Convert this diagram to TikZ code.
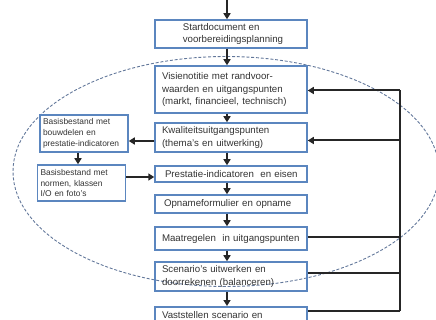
\documentclass[tikz,border=0pt]{standalone}
\usepackage{fontspec}
\setmainfont{Liberation Sans}
\usetikzlibrary{arrows.meta}
\definecolor{boxblue}{HTML}{5B86BF}
\definecolor{ellblue}{HTML}{62779A}
\definecolor{txt}{HTML}{333333}
\begin{document}
\begin{tikzpicture}[x=1pt,y=-1pt,
  mainbox/.style={draw=boxblue, line width=1.5pt, minimum width=152pt, text width=138pt,
    inner xsep=7pt, inner ysep=0pt, align=left, text=txt,
    font=\fontsize{9.7}{12.8}\selectfont},
  sidebox/.style={draw=boxblue, line width=1.5pt, text width=82pt,
    inner xsep=3pt, inner ysep=0pt, align=left, text=txt,
    font=\fontsize{8.4}{10.7}\selectfont},
  arr/.style={line width=2pt, draw=black!85, -{Triangle[length=6pt,width=7pt]}},
  fb/.style={line width=2pt, draw=black!85},
  ell/.style={draw=ellblue, line width=0.9pt, dash pattern=on 3pt off 1.8pt}]
\useasboundingbox (0,0) rectangle (436,320);
\clip (0,0) rectangle (436,320);

% dashed ellipse
\draw[ell] (226,171.5) ellipse [x radius=213pt, y radius=115pt];

% main column
\node[mainbox, text width=, align=left, minimum height=28pt] (b1) at (231,34)
  {\hspace{4pt}Startdocument en\\\hspace{4pt}voorbereidingsplanning};
\node[mainbox, minimum height=47pt] (b2) at (231,89.5)
  {Visienotitie met randvoor-\\waarden en uitgangspunten\\(markt, financieel, technisch)};
\node[mainbox, minimum height=29pt] (b3) at (231,137.5)
  {Kwaliteitsuitgangspunten\\(thema's en uitwerking)};
\node[mainbox, minimum height=16pt] (b4) at (231,174)
  {\hspace{3pt}Prestatie-indicatoren\ \ en eisen};
\node[mainbox, minimum height=18pt] (b5) at (231,204)
  {\hspace{2pt}Opnameformulier en opname};
\node[mainbox, minimum height=23pt] (b6) at (231,238.5)
  {Maatregelen\ \ in uitgangspunten};
\node[mainbox, minimum height=29pt] (b7) at (231,276.5)
  {Scenario's uitwerken en\\doorrekenen (balanceren)};
\node[mainbox, minimum height=34pt, anchor=north] (b8) at (231,306)
  {Vaststellen scenario en\\\strut};

% side column
\node[sidebox, minimum height=37pt] (s1) at (84,133.5)
  {Basisbestand met\\bouwdelen en\\prestatie-indicatoren};
\node[sidebox, minimum height=36pt] (s2) at (81.5,183)
  {Basisbestand met\\normen, klassen\\I/O en foto's};

% main arrows
\coordinate (top) at (227,0);
\draw[arr] (top) -- (top |- b1.north);
\draw[arr] (b1.south -| top) -- (b2.north -| top);
\draw[arr] (b2.south -| top) -- (b3.north -| top);
\draw[arr] (b3.south -| top) -- (b4.north -| top);
\draw[arr] (b4.south -| top) -- (b5.north -| top);
\draw[arr] (b5.south -| top) -- (b6.north -| top);
\draw[arr] (b6.south -| top) -- (b7.north -| top);
\draw[arr] (b7.south -| top) -- (b8.north -| top);

% side arrows
\draw[arr] ([yshift=-3.5pt]b3.west) -- ([yshift=-3.5pt]b3.west -| s1.east);
\coordinate (sx) at (78,0);
\draw[arr] (s1.south -| sx) -- (s2.north -| sx);
\draw[arr] ([yshift=-3pt]s2.east |- b4.west) -- ([yshift=-3pt]b4.west);

% feedback loop on the right
\coordinate (r2) at (400,90.5);
\coordinate (r8) at (400,311);
\draw[fb] (r2) -- (r8);
\draw[arr] (r2) -- (b2.east |- r2);
\draw[arr] ([yshift=-3pt]b3.east -| r2) -- ([yshift=-3pt]b3.east);
\draw[fb] ([yshift=1.5pt]b6.east) -- ([yshift=1.5pt]b6.east -| r2);
\draw[fb] ([yshift=3.5pt]b7.east) -- ([yshift=3.5pt]b7.east -| r2);
\draw[fb] (b8.east |- r8) -- (r8);
\end{tikzpicture}
\end{document}
